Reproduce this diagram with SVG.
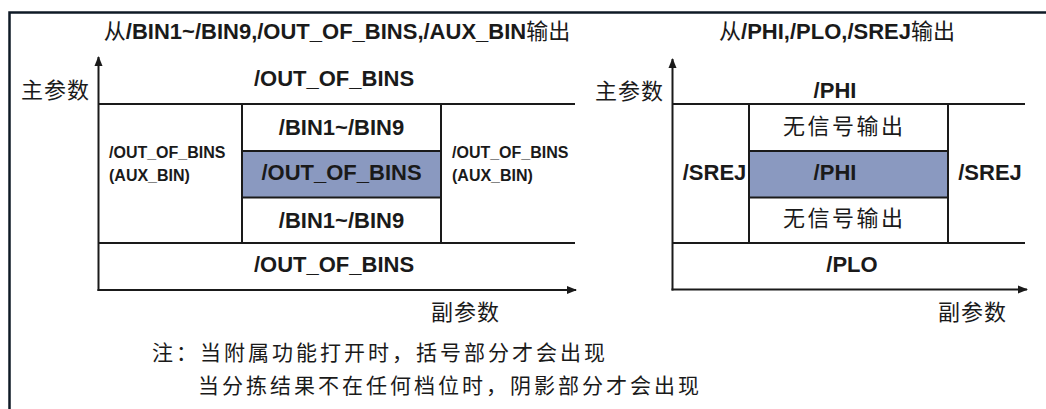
<svg xmlns="http://www.w3.org/2000/svg" width="1046" height="409" viewBox="0 0 1046 409">
<defs>
<marker id="arr" viewBox="0 0 10 10" refX="9" refY="5" markerWidth="10" markerHeight="10" markerUnits="userSpaceOnUse" orient="auto">
<path d="M0,1 L10,5 L0,9 Z" fill="#1a1a1a"/>
</marker>
<style>
.ln{stroke:#1a1a1a;stroke-width:2;fill:none}
.ax{stroke:#1a1a1a;stroke-width:2;fill:none}
.sh{fill:#8a99c0;stroke:#1a1a1a;stroke-width:2}
.b{font-family:"Liberation Sans",Arial,"Noto Sans CJK SC",sans-serif;font-weight:bold;font-size:22px;fill:#1a1a1a;text-anchor:middle}
.s{font-family:"Liberation Sans",Arial,sans-serif;font-weight:bold;font-size:16px;fill:#1a1a1a}
.cj{font-family:"Noto Sans CJK SC",sans-serif;font-size:22px;fill:#1a1a1a}
.t{font-family:"Liberation Sans",Arial,"Noto Sans CJK SC",sans-serif;font-weight:bold;font-size:22px;fill:#1a1a1a;text-anchor:middle}
.tc{font-family:"Noto Sans CJK SC",sans-serif;font-weight:normal}
.n{font-family:"Noto Sans CJK SC",sans-serif;font-size:21px;fill:#1a1a1a;letter-spacing:3px}
</style>
</defs>
<rect width="1046" height="409" fill="#ffffff"/>
<path d="M9.5,409 V12.5 H1046" stroke="#0f1a26" stroke-width="2.5" fill="none"/>

<g id="left-chart">
<text class="t" x="337" y="39"><tspan class="tc">从</tspan>/BIN1~/BIN9,/OUT_OF_BINS,/AUX_BIN<tspan class="tc">输出</tspan></text>
<text class="cj" x="21" y="98" letter-spacing="1">主参数</text>
<text class="cj" x="431" y="320" letter-spacing="1">副参数</text>
<g id="l-top"><text class="b" x="334" y="86">/OUT_OF_BINS</text></g>
<g id="l-bin-upper"><text class="b" x="341.5" y="135">/BIN1~/BIN9</text></g>
<g id="l-shaded"><rect class="sh" x="242" y="151" width="199" height="46.5"/><text class="b" x="341.5" y="180">/OUT_OF_BINS</text></g>
<g id="l-bin-lower"><text class="b" x="341.5" y="228">/BIN1~/BIN9</text></g>
<g id="l-left-aux"><text class="s" x="109" y="158">/OUT_OF_BINS</text><text class="s" x="109" y="181">(AUX_BIN)</text></g>
<g id="l-right-aux"><text class="s" x="452" y="158">/OUT_OF_BINS</text><text class="s" x="452" y="181">(AUX_BIN)</text></g>
<g id="l-bottom"><text class="b" x="334" y="272">/OUT_OF_BINS</text></g>
</g>

<g id="right-chart">
<text class="t" x="837" y="39"><tspan class="tc">从</tspan>/PHI,/PLO,/SREJ<tspan class="tc">输出</tspan></text>
<text class="cj" x="595" y="99" letter-spacing="1">主参数</text>
<text class="cj" x="938" y="320" letter-spacing="1">副参数</text>
<g id="r-top"><text class="b" x="835" y="98">/PHI</text></g>
<g id="r-none-upper"><text class="cj" x="783" y="134" letter-spacing="2.5">无信号输出</text></g>
<g id="r-shaded"><rect class="sh" x="749" y="151" width="199" height="46.5"/><text class="b" x="835" y="180">/PHI</text></g>
<g id="r-none-lower"><text class="cj" x="783" y="226" letter-spacing="2.5">无信号输出</text></g>
<g id="r-srej-left"><text class="b" x="714.5" y="180">/SREJ</text></g>
<g id="r-srej-right"><text class="b" x="990" y="180">/SREJ</text></g>
<g id="r-bottom"><text class="b" x="852" y="272">/PLO</text></g>
</g>

<g id="connectors">
<line class="ax" x1="98.5" y1="291" x2="98.5" y2="57" marker-end="url(#arr)"/>
<line class="ax" x1="97.5" y1="290" x2="576" y2="290" marker-end="url(#arr)"/>
<line class="ln" x1="98" y1="104" x2="575" y2="104"/>
<line class="ln" x1="98" y1="243" x2="575" y2="243"/>
<line class="ln" x1="242" y1="104" x2="242" y2="243"/>
<line class="ln" x1="441" y1="104" x2="441" y2="243"/>
<line class="ax" x1="672.5" y1="290.5" x2="672.5" y2="59" marker-end="url(#arr)"/>
<line class="ax" x1="671.5" y1="289.5" x2="1027" y2="289.5" marker-end="url(#arr)"/>
<line class="ln" x1="672" y1="104" x2="1025" y2="104"/>
<line class="ln" x1="672" y1="243" x2="1025" y2="243"/>
<line class="ln" x1="749" y1="104" x2="749" y2="243"/>
<line class="ln" x1="948" y1="104" x2="948" y2="243"/>
</g>

<g id="note">
<text class="n" x="152" y="360">注：当附属功能打开时，括号部分才会出现</text>
<text class="n" x="198" y="393">当分拣结果不在任何档位时，阴影部分才会出现</text>
</g>
</svg>
